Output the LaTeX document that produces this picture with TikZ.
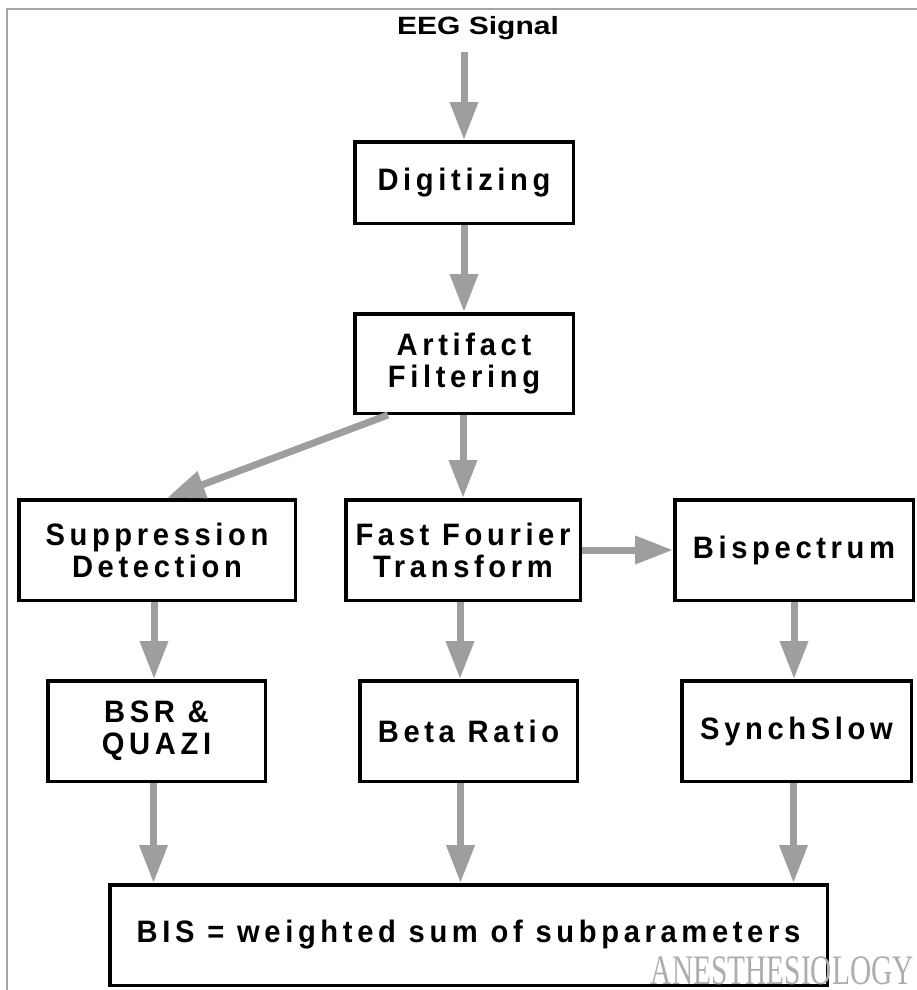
\documentclass[tikz,border=0pt]{standalone}
\usepackage{fontspec}
\usetikzlibrary{arrows.meta}
\newfontfamily\boxfont[FakeStretch=0.94,LetterSpace=15]{Liberation Sans}
\newfontfamily\headfont[FakeStretch=1.2]{Liberation Sans}
\newfontfamily\markfont{Liberation Serif}
\tikzset{
	stage/.style={draw, line width=3.5pt, align=center, inner sep=0pt,
		minimum height=100.5pt, font=\boxfont\bfseries\fontsize{31}{32}\selectfont},
	flow/.style={draw=black!38, line width=7pt, -{Triangle[length=38pt,width=27pt]}},
}
\begin{document}
\begin{tikzpicture}[x=1pt,y=-1pt]
				\useasboundingbox (0,0) rectangle (917,990);
				\draw[black!35, line width=1.5pt] (7,990) -- (7,9) -- (917,9);
				\node (title) at (478,28) {\headfont\bfseries\fontsize{25}{28}\selectfont EEG Signal};
				\coordinate (in) at (464,52);
				\node[stage, minimum width=218.5pt, minimum height=81.5pt] (dig) at (464,182.5) {Digitizing};
				\node[stage, minimum width=218.5pt, minimum height=99.5pt] (art) at (464,363.5) {Artifact\\Filtering};
				\node[stage, minimum width=276.5pt] (sup) at (157,550) {Suppression\\Detection};
				\node[stage, minimum width=234.5pt] (fft) at (463,550) {Fast Fourier\\Transform};
				\node[stage, minimum width=238.5pt] (bisp) at (794,550) {Bispectrum};
				\node[stage, minimum width=217.5pt] (bsr) at (156.5,731) {BSR \&\\QUAZI};
				\node[stage, minimum width=217.5pt] (beta) at (468.5,731) {Beta Ratio};
				\node[stage, minimum width=229.5pt] (syn) at (796.5,731) {SynchSlow};
				\node[stage, minimum width=717.5pt] (bis) at (468.5,935) {BIS = weighted sum of subparameters};
				\node[anchor=base east, text=black!32, inner sep=0pt] (mark) at (914,984)
					{\scalebox{0.7}[1]{\markfont\fontsize{42}{42}\selectfont ANESTHESIOLOGY}};
				% arrows
				\draw[flow] (in) -- (dig.north);
				\draw[flow] (dig) -- (art);
				\draw[flow] (art.south -| fft.north) -- (fft.north);
				\draw[flow] ([xshift=35pt]art.south west) -- ([xshift=150pt]sup.north west);
				\draw[flow] (fft) -- (bisp);
				\draw[flow] ([xshift=-3pt]sup.south) -- ([xshift=-3pt]sup.south |- bsr.north);
				\draw[flow] ([xshift=-3pt]fft.south) -- ([xshift=-3pt]fft.south |- beta.north);
				\draw[flow] (bisp.south) -- (bisp.south |- syn.north);
				\draw[flow] ([xshift=-3pt]bsr.south) -- ([xshift=-3pt]bsr.south |- bis.north);
				\draw[flow] ([xshift=-8pt]beta.south) -- ([xshift=-8pt]beta.south |- bis.north);
				\draw[flow] ([xshift=-3pt]syn.south) -- ([xshift=-3pt]syn.south |- bis.north);
			\end{tikzpicture}
\end{document}
